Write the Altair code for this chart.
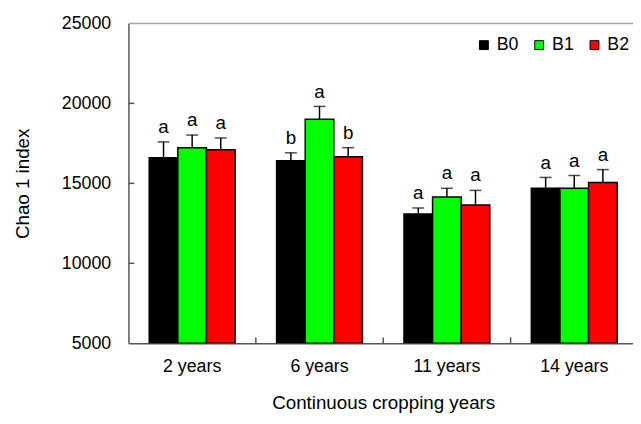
import altair as alt
import pandas as pd

FONT = "Liberation Sans"
AXIS_C = "#555555"

cats = ["2 years", "6 years", "11 years", "14 years"]
groups = ["B0", "B1", "B2"]
colors = ["#000000", "#00ff00", "#ff0000"]

mean_B0 = [16600, 16420, 13090, 14690]
mean_B1 = [17220, 19010, 14140, 14690]
mean_B2 = [17100, 16670, 13640, 15060]
err_B0 = [990, 490, 370, 680]
err_B1 = [800, 800, 550, 800]
err_B2 = [740, 560, 920, 800]
let_B0 = ["a", "b", "a", "a"]
let_B1 = ["a", "a", "a", "a"]
let_B2 = ["a", "b", "a", "a"]

y_ticks = [5000, 10000, 15000, 20000, 25000]

rows = []
for g, m, e, l in [("B0", mean_B0, err_B0, let_B0),
                   ("B1", mean_B1, err_B1, let_B1),
                   ("B2", mean_B2, err_B2, let_B2)]:
    for c, mv, ev, lv in zip(cats, m, e, l):
        rows.append({"cat": c, "grp": g, "val": mv, "top": mv + ev, "letter": lv})
df = pd.DataFrame(rows)

xscale = alt.Scale(paddingInner=0.326, paddingOuter=0.163, range=[0, 516])
x = alt.X("cat:N", sort=cats, scale=xscale,
          axis=alt.Axis(title="Continuous cropping years", ticks=False, labelAngle=0,
                        domainColor=AXIS_C, domainWidth=1.5, labelFont=FONT, labelFontSize=18,
                        labelColor="black", labelPadding=15, titleFont=FONT, titleFontSize=19,
                        titleFontWeight="normal", titleColor="black", titlePadding=18))
xo = alt.XOffset("grp:N", sort=groups, scale=alt.Scale(paddingInner=0, paddingOuter=0))
yscale = alt.Scale(domain=[5000, 25000], nice=False, zero=False)
y = alt.Y("val:Q", scale=yscale,
          axis=alt.Axis(title="Chao 1 index", values=y_ticks, grid=False, ticks=False,
                        format="d", domainColor=AXIS_C, domainWidth=1.5, labelFont=FONT,
                        labelFontSize=18, labelColor="black", labelPadding=18,
                        titleFont=FONT, titleFontSize=19, titleFontWeight="normal",
                        titleColor="black", titlePadding=29))

base = alt.Chart(df)

bars = base.mark_bar(stroke="black", strokeWidth=1.5, clip=True).encode(
    x=x, xOffset=xo, y=y, y2=alt.datum(5000),
    color=alt.Color("grp:N", sort=groups,
                    scale=alt.Scale(domain=groups, range=colors),
                    legend=alt.Legend(title=None, orient="none", legendX=351, legendY=13,
                                      direction="horizontal", symbolType="square",
                                      symbolSize=81, symbolStrokeColor="black",
                                      symbolStrokeWidth=1, labelFont=FONT, labelFontSize=18,
                                      labelColor="black", labelOffset=4, columnPadding=11)),
)

err = base.mark_rule(color="black", strokeWidth=1.5).encode(
    x=x, xOffset=xo, y="val:Q", y2="top:Q")
cap = base.mark_tick(color="black", thickness=1.5, size=12, orient="horizontal").encode(
    x=x, xOffset=xo, y="top:Q")
txt = base.mark_text(font=FONT, fontSize=19, baseline="alphabetic", dy=-9, color="black").encode(
    x=x, xOffset=xo, y="top:Q", text="letter:N")

bnd = alt.Chart(pd.DataFrame({"cat": cats[1:]})).mark_rule(
    color=AXIS_C, strokeWidth=1.5, xOffset=-21).encode(
    x=alt.X("cat:N", sort=cats, bandPosition=0), y=alt.value(324), y2=alt.value(318))

ytk = alt.Chart(pd.DataFrame({"v": y_ticks[1:-1]})).mark_rule(
    color=AXIS_C, strokeWidth=1.5).encode(
    y=alt.Y("v:Q"), x=alt.value(0), x2=alt.value(6))

topline = alt.Chart(pd.DataFrame({"v": [25000]})).mark_rule(
    color="#a6a6a6", strokeWidth=1.5).encode(
    y=alt.Y("v:Q"), x=alt.value(0), x2=alt.value(516))

chart = alt.layer(bars, err, cap, txt, bnd, ytk, topline).properties(
    width=511, height=324,
    autosize=alt.AutoSizeParams(type="none"),
    padding={"left": 122, "top": 13, "right": 0, "bottom": 68},
).configure_view(stroke=None)

chart.save("out.html", embed_options={"renderer": "svg", "actions": False})
